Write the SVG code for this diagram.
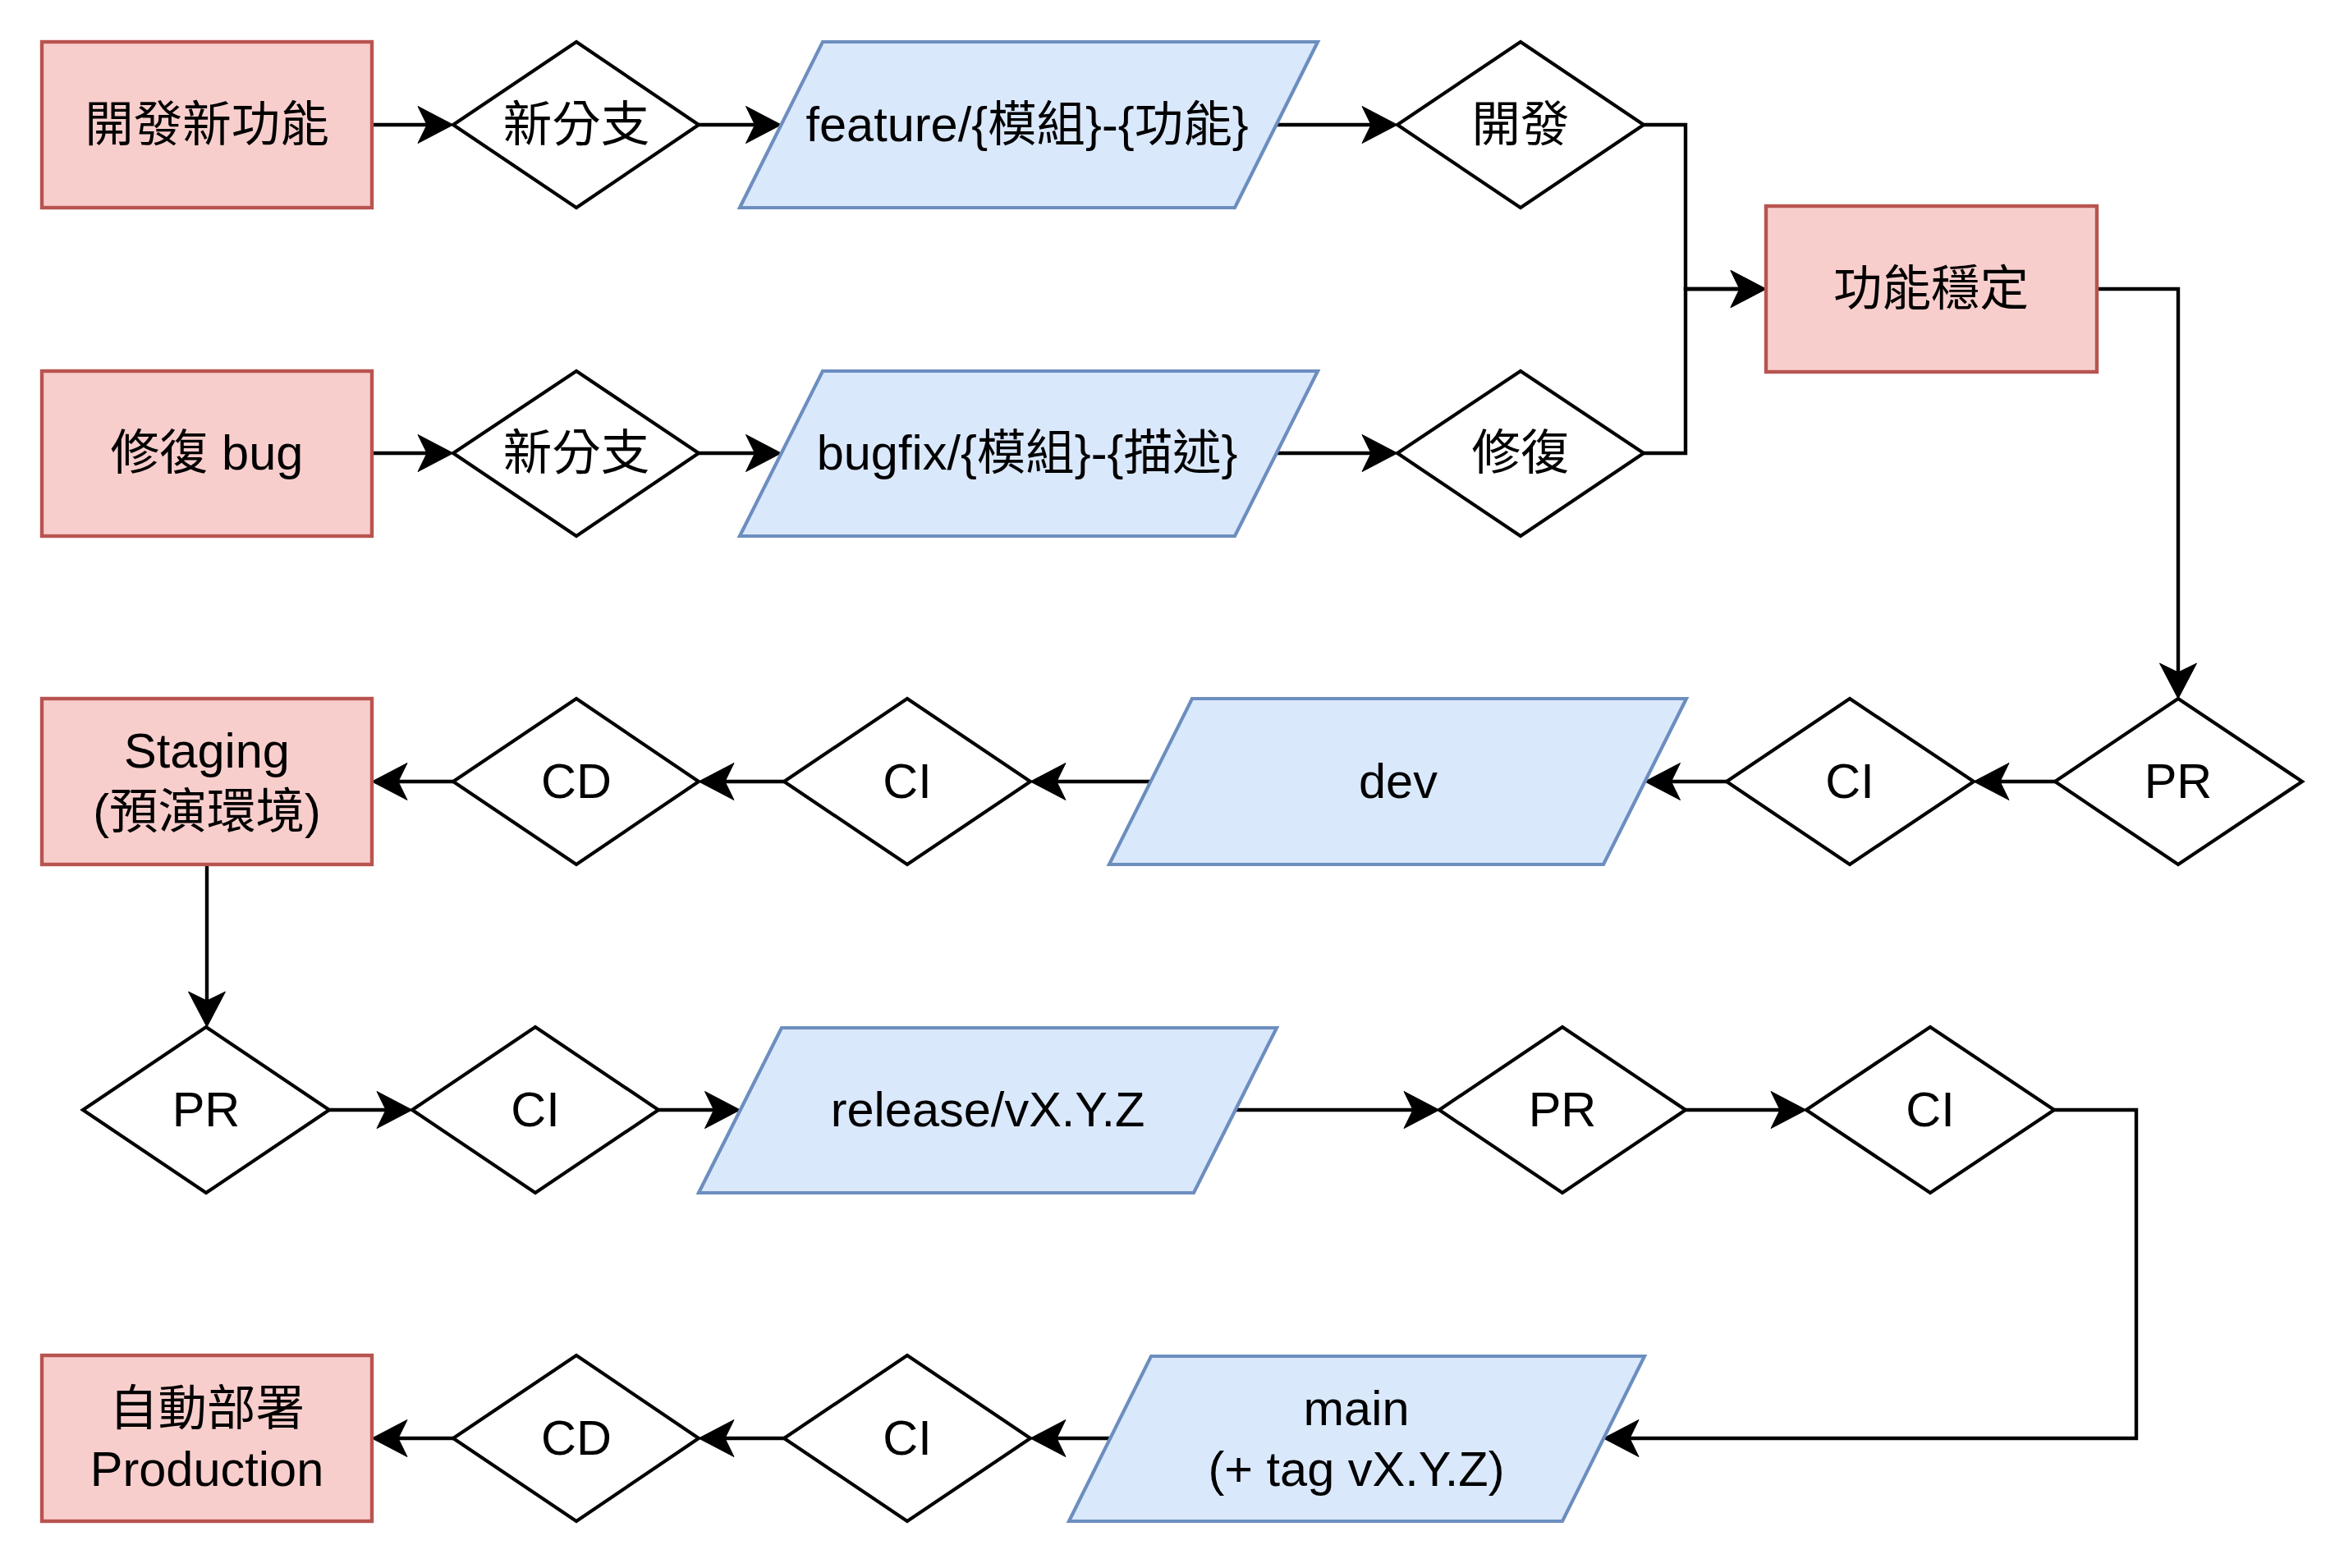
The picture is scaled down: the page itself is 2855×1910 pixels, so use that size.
<svg xmlns="http://www.w3.org/2000/svg" width="2855" height="1910" viewBox="0 0 2855 1910">
<style>
.bg{fill:#ffffff}
.proc rect{fill:#f8cecc;stroke:#b85450;stroke-width:4.4}
.dec polygon{fill:#ffffff;stroke:#000000;stroke-width:4.2}
.io polygon{fill:#dae8fc;stroke:#6c8ebf;stroke-width:4.2}
text{font-family:"Liberation Sans","Noto Sans CJK TC",sans-serif;font-size:59.5px;fill:#000000;text-anchor:middle}
#edges path{fill:none;stroke:#000000;stroke-width:4.4;marker-end:url(#arr)}
</style>
<defs>
<marker id="arr" viewBox="-13 -24 47 48" refX="0" refY="0" markerWidth="47" markerHeight="48" markerUnits="userSpaceOnUse" orient="auto" overflow="visible">
<path d="M32,0 L-11,-22.5 L0,0 L-11,22.5 Z" fill="#000000" stroke="#000000" stroke-width="1"/>
</marker>
</defs>
<rect class="bg" x="0" y="0" width="2855" height="1910"/>

<g id="edges">
<path d="M453,152 H520"/>
<path d="M851,152 H919.5"/>
<path d="M1554.5,152 H1670"/>
<path d="M2002,152 H2053 V352 H2119"/>
<path d="M453,552 H520"/>
<path d="M851,552 H919.5"/>
<path d="M1554.5,552 H1670"/>
<path d="M2002,552 H2053 V352 H2119"/>
<path d="M2554,352 H2653 V819"/>
<path d="M2503,952 H2436"/>
<path d="M2103,952 H2035.5"/>
<path d="M1401.5,952 H1287"/>
<path d="M955,952 H883"/>
<path d="M552,952 H485"/>
<path d="M252,1053 V1219"/>
<path d="M401,1352 H470"/>
<path d="M802,1352 H869.5"/>
<path d="M1504.5,1352 H1721"/>
<path d="M2053,1352 H2168"/>
<path d="M2502,1352 H2602 V1752 H1985"/>
<path d="M1352,1752 H1287"/>
<path d="M955,1752 H883"/>
<path d="M552,1752 H485"/>
</g>

<!-- Row 1 -->
<g id="n-newfeature" class="proc"><rect x="51" y="51" width="402" height="202"/><text x="252" y="172">開發新功能</text></g>
<g id="n-branch1" class="dec"><polygon points="702,51 851,152 702,253 552,152"/><text x="702" y="172">新分支</text></g>
<g id="n-feature" class="io"><polygon points="1002,51 1605,51 1504,253 901,253"/><text x="1251" y="172">feature/{模組}-{功能}</text></g>
<g id="n-develop" class="dec"><polygon points="1852,51 2002,152 1852,253 1702,152"/><text x="1852" y="172">開發</text></g>

<!-- Row 2 -->
<g id="n-fixbug" class="proc"><rect x="51" y="452" width="402" height="201"/><text x="252" y="572">修復 bug</text></g>
<g id="n-branch2" class="dec"><polygon points="702,452 851,552 702,653 552,552"/><text x="702" y="572">新分支</text></g>
<g id="n-bugfix" class="io"><polygon points="1002,452 1605,452 1504,653 901,653"/><text x="1251" y="572">bugfix/{模組}-{描述}</text></g>
<g id="n-fix" class="dec"><polygon points="1852,452 2002,552 1852,653 1702,552"/><text x="1852" y="572">修復</text></g>

<g id="n-stable" class="proc"><rect x="2151" y="251" width="403" height="202"/><text x="2352" y="372">功能穩定</text></g>

<!-- Row 3 -->
<g id="n-pr1" class="dec"><polygon points="2653,851 2804,952 2653,1053 2503,952"/><text x="2653" y="972">PR</text></g>
<g id="n-ci1" class="dec"><polygon points="2253,851 2404,952 2253,1053 2103,952"/><text x="2253" y="972">CI</text></g>
<g id="n-dev" class="io"><polygon points="1452,851 2054,851 1953,1053 1351,1053"/><text x="1703" y="972">dev</text></g>
<g id="n-ci2" class="dec"><polygon points="1105,851 1255,952 1105,1053 955,952"/><text x="1105" y="972">CI</text></g>
<g id="n-cd1" class="dec"><polygon points="702,851 851,952 702,1053 552,952"/><text x="702" y="972">CD</text></g>
<g id="n-staging" class="proc"><rect x="51" y="851" width="402" height="202"/><text x="252" y="935">Staging</text><text x="252" y="1009">(預演環境)</text></g>

<!-- Row 4 -->
<g id="n-pr2" class="dec"><polygon points="251,1251 401,1352 251,1453 101,1352"/><text x="251" y="1372">PR</text></g>
<g id="n-ci3" class="dec"><polygon points="652,1251 802,1352 652,1453 502,1352"/><text x="652" y="1372">CI</text></g>
<g id="n-release" class="io"><polygon points="952,1252 1555,1252 1454,1453 851,1453"/><text x="1203" y="1372">release/vX.Y.Z</text></g>
<g id="n-pr3" class="dec"><polygon points="1903,1251 2053,1352 1903,1453 1753,1352"/><text x="1903" y="1372">PR</text></g>
<g id="n-ci4" class="dec"><polygon points="2351,1251 2502,1352 2351,1453 2200,1352"/><text x="2351" y="1372">CI</text></g>

<!-- Row 5 -->
<g id="n-main" class="io"><polygon points="1402,1652 2003,1652 1903,1853 1302,1853"/><text x="1652" y="1736">main</text><text x="1652" y="1810">(+ tag vX.Y.Z)</text></g>
<g id="n-ci5" class="dec"><polygon points="1105,1651 1255,1752 1105,1853 955,1752"/><text x="1105" y="1772">CI</text></g>
<g id="n-cd2" class="dec"><polygon points="702,1651 851,1752 702,1853 552,1752"/><text x="702" y="1772">CD</text></g>
<g id="n-prod" class="proc"><rect x="51" y="1651" width="402" height="202"/><text x="252" y="1736">自動部署</text><text x="252" y="1810">Production</text></g>
</svg>
